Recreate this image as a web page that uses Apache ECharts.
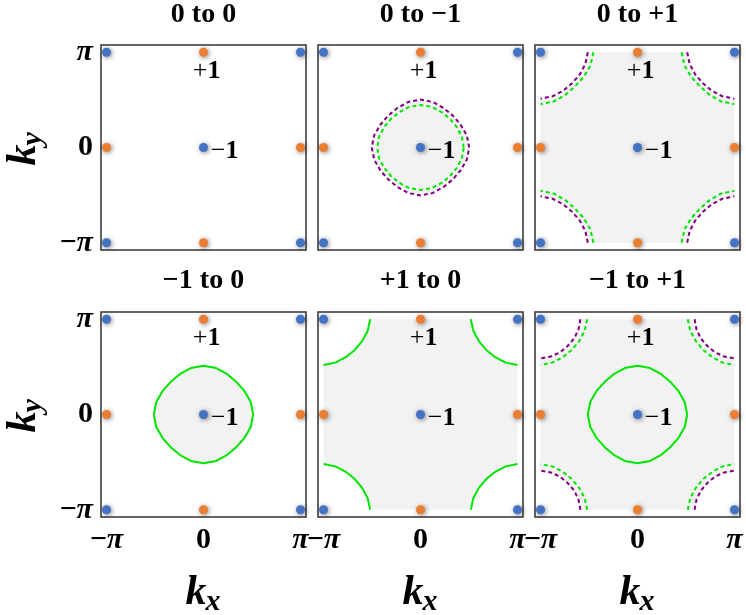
<!DOCTYPE html>
<html>
<head>
<meta charset="utf-8">
<script src="https://cdn.jsdelivr.net/npm/echarts@6/dist/echarts.min.js"></script>
<style>
  html, body { margin: 0; padding: 0; background: #fff; }
  #chart { width: 746px; height: 615px; }
</style>
</head>
<body>
<div id="chart"></div>
<script>
const PI = Math.PI

// panel titles, row by row
const panelTitles = ['0 to 0', '0 to −1', '0 to +1', '−1 to 0', '+1 to 0', '−1 to +1']

// ticks on both axes
const tickValues = [-PI, 0, PI]
const tickLabels = ['{m|−}{p|π}', '0', '{p|π}']

// charge points
const blueDots = [[-PI, PI], [PI, PI], [-PI, -PI], [PI, -PI], [0, 0]]
const orangeDots = [[0, PI], [0, -PI], [-PI, 0], [PI, 0]]
const chargePoints = [[0, PI], [0, 0]]
const chargeSigns = ['+', '−']
const chargeDigits = ['1', '1']

// contours round the centre, first quadrant only (the picture is symmetric)
const centreGreen = [[1.61, 0], [1.53, 0.41], [1.33, 0.77], [1.07, 1.07], [0.77, 1.33], [0.41, 1.53], [0, 1.61]]
const centrePurple = [[1.58, 0], [1.50, 0.40], [1.30, 0.75], [1.05, 1.05], [0.75, 1.30], [0.40, 1.50], [0, 1.58]]
const centreGreenSmall = [[1.40, 0], [1.34, 0.36], [1.17, 0.68], [0.95, 0.95], [0.68, 1.17], [0.36, 1.34], [0, 1.40]]

// contours round the top-left corner (-pi, pi), from the top edge to the left edge
const cornerSmall = [[-1.85, 3.14], [-1.91, 2.81], [-2.05, 2.51], [-2.26, 2.26], [-2.51, 2.05], [-2.81, 1.91], [-3.14, 1.85]]
const cornerMid = [[-1.63, 3.14], [-1.71, 2.76], [-1.89, 2.42], [-2.13, 2.13], [-2.42, 1.89], [-2.76, 1.71], [-3.14, 1.63]]
const cornerMid2 = [[-1.61, 3.14], [-1.69, 2.75], [-1.87, 2.41], [-2.12, 2.12], [-2.41, 1.87], [-2.75, 1.69], [-3.14, 1.61]]
const cornerLarge = [[-1.43, 3.14], [-1.52, 2.71], [-1.74, 2.33], [-2.02, 2.02], [-2.33, 1.74], [-2.71, 1.52], [-3.14, 1.43]]

const GREEN = '#00e600'
const PURPLE = '#800080'

const flip = (pts, sx, sy) => pts.map(([x, y]) => [x * sx, y * sy])

function loop(q) {
  return [...q, ...flip(q, -1, 1).reverse(), ...flip(q, -1, -1), ...flip(q, 1, -1).reverse()]
}
function corners(tl) {
  return [tl, flip(tl, -1, 1), flip(tl, 1, -1), flip(tl, -1, -1)]
}
function cornerFill(tl) {
  return [...flip(tl, -1, 1), ...flip(tl, -1, -1).reverse(), ...flip(tl, 1, -1), ...tl.slice().reverse()]
}

const panels = [
  { fill: null, loops: [], arcs: [] },
  { fill: loop(centrePurple),
    loops: [[centrePurple, PURPLE, true], [centreGreenSmall, GREEN, true]], arcs: [] },
  { fill: cornerFill(cornerMid2), loops: [],
    arcs: [[cornerMid2, PURPLE, true], [cornerLarge, GREEN, true]] },
  { fill: loop(centreGreen), loops: [[centreGreen, GREEN, false]], arcs: [] },
  { fill: cornerFill(cornerMid), loops: [], arcs: [[cornerMid, GREEN, false]] },
  { fill: cornerFill(cornerSmall), loops: [[centreGreen, GREEN, false]],
    arcs: [[cornerSmall, PURPLE, true], [cornerMid, GREEN, true]] }
]

const lefts = [101, 318, 535]
const tops = [45, 312]
const size = 205
const serif = '"Liberation Serif", "DejaVu Serif", serif'

const richTick = {
  m: { fontFamily: serif, fontWeight: 'bold', fontSize: 30, color: '#000' },
  p: { fontFamily: serif, fontWeight: 'bold', fontStyle: 'italic', fontSize: 30, color: '#000' }
}
// sign is drawn right-aligned at the anchor, digit left-aligned
const chargeAnchors = [[4, 19], [22, 4]]
const tickFormat = v => v < -1 ? tickLabels[0] : (v > 1 ? tickLabels[2] : tickLabels[1])

const chart = echarts.init(document.getElementById('chart'))

const grid = panels.map((p, i) => ({
  left: lefts[i % 3], top: tops[Math.floor(i / 3)], width: size, height: size,
  show: true, borderColor: '#333', borderWidth: 1.5, backgroundColor: 'transparent'
}))

function axis(i, showLabel, lim) {
  return {
    gridIndex: i, type: 'value', min: -lim, max: lim,
    axisLine: { show: false }, splitLine: { show: false },
    axisTick: { show: true, customValues: tickValues, length: 3, lineStyle: { color: '#000', width: 1 } },
    axisLabel: {
      show: showLabel, customValues: tickValues, formatter: tickFormat, margin: 8,
      fontFamily: serif, fontWeight: 'bold', fontSize: 30, color: '#000', rich: richTick
    }
  }
}

const series = []
panels.forEach((p, i) => {
  const ax = { xAxisIndex: i, yAxisIndex: i, silent: true, animation: false }
  if (p.fill) {
    const poly = p.fill
    series.push({
      ...ax, type: 'custom', z: 1, data: [[0, 0]],
      renderItem: (params, api) => ({
        type: 'polygon',
        shape: { points: poly.map(pt => api.coord(pt)) },
        style: { fill: '#f2f2f2' }
      })
    })
  }
  const lines = []
  p.loops.forEach(([q, color, dashed]) => lines.push([loop(q), color, dashed]))
  p.arcs.forEach(([tl, color, dashed]) => corners(tl).forEach(a => lines.push([a, color, dashed])))
  lines.forEach(([pts, color, dashed]) => {
    series.push({
      ...ax, type: 'line', z: 3, data: pts, symbol: 'none',
      lineStyle: { color: color, width: 2, type: dashed ? [4, 3] : 'solid' }
    })
  })
  const dotStyle = c => ({
    color: c, opacity: 1, shadowBlur: 5, shadowColor: 'rgba(0,0,0,0.5)', shadowOffsetX: 1, shadowOffsetY: 1
  })
  series.push({ ...ax, type: 'scatter', z: 5, symbolSize: 9, itemStyle: dotStyle('#4472c4'), data: blueDots })
  series.push({ ...ax, type: 'scatter', z: 5, symbolSize: 9, itemStyle: dotStyle('#ed7d31'), data: orangeDots })
  // +1 / -1 charge labels
  series.push({
    ...ax, type: 'custom', z: 6, data: chargePoints,
    renderItem: (params, api) => {
      const c = api.coord([api.value(0), api.value(1)])
      const a = chargeAnchors[params.dataIndex]
      const x = c[0] + a[0]
      const y = c[1] + a[1]
      return {
        type: 'group',
        children: [
          { type: 'text', x: x, y: y, style: { text: chargeSigns[params.dataIndex], font: '26px ' + serif, align: 'right', verticalAlign: 'middle', fill: '#000' } },
          { type: 'text', x: x, y: y, style: { text: chargeDigits[params.dataIndex], font: 'bold 26px ' + serif, align: 'left', verticalAlign: 'middle', fill: '#000' } }
        ]
      }
    }
  })
})

function kLabel(x, y, sub, rotation) {
  return {
    type: 'group', x: x, y: y, rotation: rotation,
    children: [
      { type: 'text', x: 3, y: 0, style: { text: 'k', font: 'italic bold 42px ' + serif, align: 'right', verticalAlign: 'middle', textAlign: 'right', textVerticalAlign: 'middle', fill: '#000' } },
      { type: 'text', x: 2, y: 9, style: { text: sub, font: 'italic bold 30px ' + serif, align: 'left', verticalAlign: 'middle', textAlign: 'left', textVerticalAlign: 'middle', fill: '#000' } }
    ]
  }
}

const graphic = panelTitles.map((t, i) => ({
  type: 'text',
  x: lefts[i % 3] + size / 2, y: i < 3 ? 15 : 281,
  style: { text: t, font: 'bold 28px ' + serif, align: 'center', verticalAlign: 'middle', textAlign: 'center', textVerticalAlign: 'middle', fill: '#000' }
}))
lefts.forEach(l => graphic.push(kLabel(l + size / 2, 593, 'x', 0)))
tops.forEach(t => graphic.push(kLabel(24, t + size / 2, 'y', PI / 2)))

chart.setOption({
  animation: false,
  backgroundColor: '#fff',
  grid: grid,
  xAxis: panels.map((p, i) => axis(i, i >= 3, 3.32)),
  yAxis: panels.map((p, i) => axis(i, i % 3 === 0, 3.38)),
  series: series,
  graphic: graphic
})
</script>
</body>
</html>
